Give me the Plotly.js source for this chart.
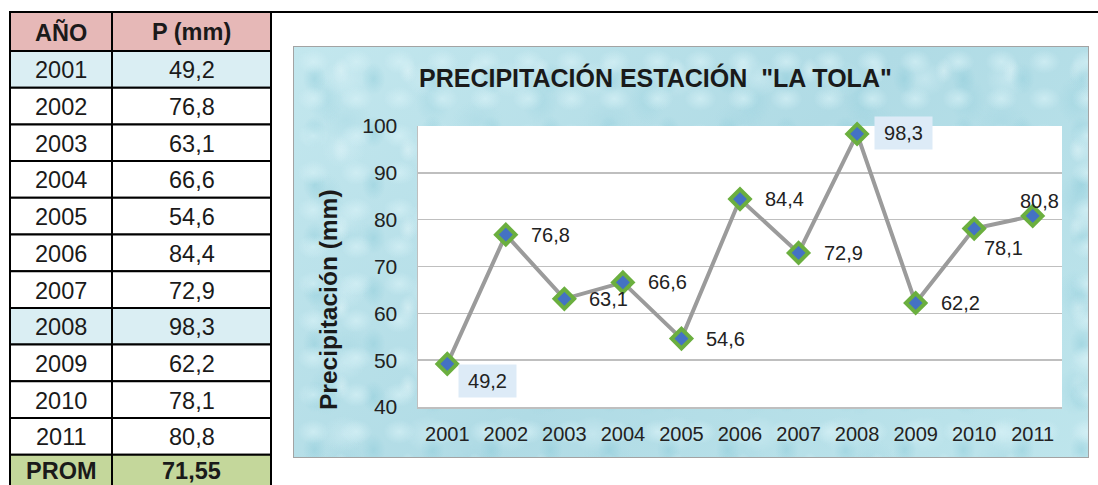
<!DOCTYPE html>
<html>
<head>
<meta charset="utf-8">
<script src="https://cdn.plot.ly/plotly-3.0.1.min.js"></script>
<style>
  html, body { margin: 0; padding: 0; background: #ffffff; overflow: hidden; }
  #wrap { position: relative; width: 1098px; height: 485px; }
  /* water-drop backdrop of the chart frame */
  #water {
    position: absolute; left: 293px; top: 46px; width: 796px; height: 412px;
    box-sizing: border-box; border: 1.5px solid #a3a3a3;
    background-color: #b9e2ea;
    background-image:
      radial-gradient(ellipse 16px 12px at 45% 40%, rgba(214,241,246,0.7), rgba(214,241,246,0) 100%),
      radial-gradient(ellipse 12px 16px at 35% 60%, rgba(140,203,217,0.45), rgba(140,203,217,0) 100%),
      radial-gradient(ellipse 22px 18px at 60% 45%, rgba(210,238,244,0.55), rgba(210,238,244,0) 100%),
      radial-gradient(ellipse 18px 24px at 30% 55%, rgba(150,208,221,0.4), rgba(150,208,221,0) 100%),
      radial-gradient(ellipse 9px 13px at 70% 30%, rgba(228,246,249,0.55), rgba(228,246,249,0) 100%),
      radial-gradient(ellipse 26px 20px at 40% 65%, rgba(160,212,224,0.35), rgba(160,212,224,0) 100%),
      linear-gradient(135deg, #c3e7ee 0%, #b0dbe5 50%, #bee5ec 100%);
    background-size: 43px 37px, 59px 53px, 83px 71px, 107px 97px, 67px 79px, 131px 113px, 100% 100%;
  }
  #chart { position: absolute; left: 0; top: 0; width: 1098px; height: 485px; }
</style>
</head>
<body>
<div id="wrap">
  <div id="water"></div>
  <div id="chart"></div>
</div>
<script>
// ---- data ----
const years = ['2001', '2002', '2003', '2004', '2005', '2006', '2007', '2008', '2009', '2010', '2011'];
const precip = [49.2, 76.8, 63.1, 66.6, 54.6, 84.4, 72.9, 98.3, 62.2, 78.1, 80.8];
const tableHeaders = ['AÑO', 'P (mm)'];
const meanLabel = 'PROM';
const yTicks = [40, 50, 60, 70, 80, 90, 100];
const chartTitle = 'PRECIPITACIÓN ESTACIÓN\u00a0 "LA TOLA"';
const yTitle = 'Precipitación (mm)';

// ---- helpers ----
const W = 1098, H = 485;
const fx = px => px / W;
const fy = py => 1 - py / H;
const fmt = (v, d) => v.toFixed(d).replace('.', ',');
const FONT = '"Liberation Sans", Arial, Helvetica, sans-serif';
const TEXT = '#222222';

const mean = precip.reduce((a, b) => a + b, 0) / precip.length;
const maxV = Math.max(...precip), minV = Math.min(...precip);

const shapes = [];
const annotations = [];

// ---- data table (left) ----
const colEdges = [10, 112, 271];
const headTop = 12, headBot = 51, rowH = 36.7;

const tableRows = [{ cells: tableHeaders, fill: '#E6B8B7', bold: true, top: headTop, bot: headBot }];
years.forEach((yr, i) => {
  const v = precip[i];
  tableRows.push({
    cells: [yr, fmt(v, 1)],
    fill: (v === maxV || v === minV) ? '#DAEEF3' : '#FFFFFF',
    bold: false,
    top: headBot + rowH * i,
    bot: headBot + rowH * (i + 1)
  });
});
tableRows.push({
  cells: [meanLabel, fmt(mean, 2)],
  fill: '#C4D79B', bold: true,
  top: headBot + rowH * years.length,
  bot: headBot + rowH * (years.length + 1)
});

tableRows.forEach((r, k) => {
  const isLast = k === tableRows.length - 1;
  r.cells.forEach((txt, c) => {
    shapes.push({
      type: 'rect', xref: 'paper', yref: 'paper', layer: 'below',
      x0: fx(colEdges[c]), x1: fx(colEdges[c + 1]), y0: fy(r.bot), y1: fy(r.top),
      fillcolor: r.fill, line: { color: '#000000', width: 2 }
    });
    annotations.push({
      xref: 'paper', yref: 'paper', showarrow: false,
      x: fx((colEdges[c] + colEdges[c + 1]) / 2),
      y: fy((r.top + r.bot) / 2 + (isLast ? -2 : 1)),
      xanchor: 'center', yanchor: 'middle',
      text: r.bold ? '<b>' + txt + '</b>' : txt,
      font: { family: FONT, size: 23.5, color: '#1a1a1a' }
    });
  });
});

// rule along the top of the page
shapes.push({
  type: 'line', xref: 'paper', yref: 'paper', layer: 'above',
  x0: fx(10), x1: 1, y0: fy(12), y1: fy(12),
  line: { color: '#000000', width: 2 }
});

// ---- chart titles ----
annotations.push({
  xref: 'paper', yref: 'paper', showarrow: false,
  x: fx(655), y: fy(77), xanchor: 'center', yanchor: 'middle',
  text: '<b>' + chartTitle + '</b>',
  font: { family: FONT, size: 25, color: '#1a1a1a' }
});
annotations.push({
  xref: 'paper', yref: 'paper', showarrow: false, textangle: -90,
  x: fx(328), y: fy(300), xanchor: 'center', yanchor: 'middle',
  text: '<b>' + yTitle + '</b>',
  font: { family: FONT, size: 24.5, color: '#1a1a1a' }
});

// ---- value labels ----
const labelBox = '#DDEBF7';
const labelPlacement = {
  '2001': { xanchor: 'left', yanchor: 'top', xshift: 11, yshift: 0, boxed: true },
  '2008': { xanchor: 'left', yanchor: 'middle', xshift: 17, yshift: 1, boxed: true },
  '2010': { xanchor: 'center', yanchor: 'middle', xshift: 29, yshift: -19 },
  '2011': { xanchor: 'center', yanchor: 'middle', xshift: 7, yshift: 15 }
};
years.forEach((yr, i) => {
  const p = labelPlacement[yr] || { xanchor: 'left', yanchor: 'middle', xshift: 23, yshift: 0 };
  const a = {
    xref: 'x', yref: 'y', x: i, y: precip[i], showarrow: false,
    text: fmt(precip[i], 1),
    xanchor: p.xanchor, yanchor: p.yanchor, xshift: p.xshift, yshift: p.yshift,
    font: { family: FONT, size: 20, color: TEXT }
  };
  if (p.boxed) { a.bgcolor = labelBox; a.width = 55; a.height = 30; a.align = 'center'; }
  annotations.push(a);
});

// ---- series ----
const trace = {
  type: 'scatter', mode: 'lines+markers',
  x: years, y: precip,
  line: { color: '#9B9B9B', width: 4 },
  marker: { symbol: 'diamond', size: 15, color: '#4472C4', line: { color: '#6BAF3F', width: 4 } },
  cliponaxis: false, hoverinfo: 'skip'
};

const layout = {
  width: W, height: H,
  margin: { l: 0, r: 0, t: 0, b: 0 },
  paper_bgcolor: 'rgba(0,0,0,0)',
  plot_bgcolor: '#FFFFFF',
  showlegend: false,
  font: { family: FONT, color: TEXT },
  xaxis: {
    type: 'category', domain: [fx(418), fx(1062)], range: [-0.5, years.length - 0.5],
    showgrid: false, zeroline: false, showline: true, linecolor: '#BFBFBF', linewidth: 1.5,
    ticks: '', ticklabelstandoff: 8, tickfont: { family: FONT, size: 20, color: TEXT }
  },
  yaxis: {
    domain: [fy(407), fy(126)], range: [40, 100], tickvals: yTicks,
    showgrid: true, gridcolor: '#BFBFBF', gridwidth: 1.5, zeroline: false,
    showline: true, linecolor: '#BFBFBF', linewidth: 1.5,
    ticks: '', ticklabelstandoff: 15, tickfont: { family: FONT, size: 21, color: TEXT }
  },
  shapes: shapes,
  annotations: annotations
};

Plotly.newPlot('chart', [trace], layout, { staticPlot: true, displayModeBar: false });
</script>
</body>
</html>
